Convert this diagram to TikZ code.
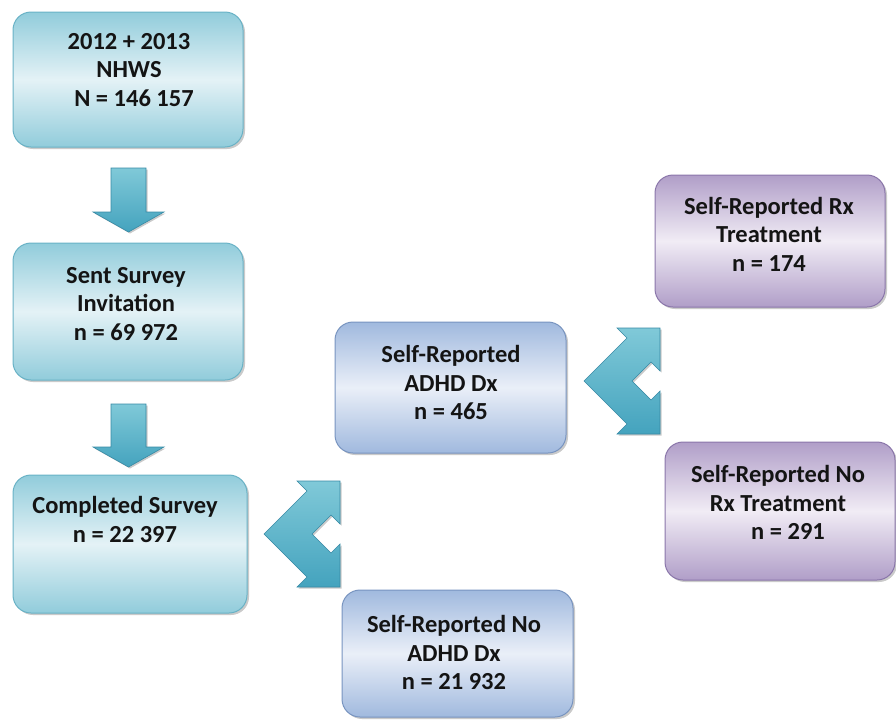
\documentclass[tikz,border=0pt]{standalone}
\usepackage{fontspec}
\setmainfont{Carlito}
\usetikzlibrary{shadows}
\definecolor{tealA}{RGB}{145,204,219}
\definecolor{tealB}{RGB}{228,242,246}
\definecolor{tealE}{RGB}{105,178,198}
\definecolor{blueA}{RGB}{160,185,222}
\definecolor{blueB}{RGB}{234,239,248}
\definecolor{blueE}{RGB}{120,148,192}
\definecolor{purA}{RGB}{176,158,200}
\definecolor{purB}{RGB}{241,236,245}
\definecolor{purE}{RGB}{138,118,170}
\definecolor{arrA}{RGB}{68,163,190}
\definecolor{arrB}{RGB}{128,201,216}
\definecolor{arrE}{RGB}{55,138,165}
\begin{document}
\begin{tikzpicture}[x=1pt,y=-1pt,
  box/.style={draw, line width=1pt, rounded corners=18pt, inner sep=0pt, shading angle=35,
    drop shadow={shadow xshift=2pt,shadow yshift=-2pt,opacity=0.35,fill=black!60}},
  tealbox/.style={box, draw=tealE, top color=tealA, bottom color=tealA, middle color=tealB},
  bluebox/.style={box, draw=blueE, top color=blueA, bottom color=blueA, middle color=blueB},
  purbox/.style={box, draw=purE, top color=purA, bottom color=purA, middle color=purB},
  txt/.style={font=\fontsize{24.5}{28.5}\selectfont\bfseries, align=center, text=black!92, inner sep=0pt},
  blk/.style={draw=arrE, line width=0.6pt, top color=arrB, bottom color=arrA,
    drop shadow={shadow xshift=1.5pt,shadow yshift=-1.5pt,opacity=0.35,fill=black!60}},
]
\useasboundingbox (0,0) rectangle (896,723);

% boxes
\node[tealbox, minimum width=230pt, minimum height=135pt] (b1) at (128,79.5) {};
\node[tealbox, minimum width=230pt, minimum height=137pt] (b2) at (128,311.5) {};
\node[tealbox, minimum width=234pt, minimum height=138pt] (b3) at (130,544) {};
\node[bluebox, minimum width=231pt, minimum height=131pt] (b4) at (450.5,387.5) {};
\node[bluebox, minimum width=231pt, minimum height=127pt] (b5) at (457.5,653.5) {};
\node[purbox, minimum width=230pt, minimum height=132pt] (b6) at (770,241) {};
\node[purbox, minimum width=230pt, minimum height=138pt] (b7) at (780,511) {};

% texts
\node[txt] (t1) at (129,70) {2012 + 2013\\NHWS\\\hspace*{10pt}N = 146 157};
\node[txt] (t2) at (126,304) {Sent Survey\\Invitation\\n = 69 972};
\node[txt] (t3) at (125,519.5) {Completed Survey\\n = 22 397};
\node[txt] (t4) at (451,382.5) {Self-Reported\\ADHD Dx\\n = 465};
\node[txt] (t5) at (454,652.5) {Self-Reported No\\ADHD Dx\\n = 21 932};
\node[txt] (t6) at (769,234) {Self-Reported Rx\\Treatment\\n = 174};
\node[txt] (t7) at (778,502.5) {Self-Reported No\\Rx Treatment\\\hspace*{20pt}n = 291};

% down arrows
\coordinate (d1) at (128.5,168);
\coordinate (d2) at (128.5,404);
\foreach \c/\h/\t in {d1/44/64, d2/43/63}{
  \path[blk] ([xshift=-17.5pt]\c) -- ++(35,0) -- ++(0,\h) -- ++(18,0)
    -- ([yshift=-\t pt]\c) -- ([xshift=-35.5pt,yshift=-\h pt]\c) -- ++(18,0) -- cycle;
}

% bent double arrows
\coordinate (c1) at (264,534);
\coordinate (c2) at (584,381);
\foreach \c in {c1,c2}{
  \path[blk, shift={(\c)}] (0,0) -- (43,-43) -- (33,-53) -- (76,-53) -- (76,-10) -- (67,-19)
    -- (48,0) -- (67,19) -- (76,10) -- (76,53) -- (33,53) -- (43,43) -- cycle;
}
\end{tikzpicture}
\end{document}
